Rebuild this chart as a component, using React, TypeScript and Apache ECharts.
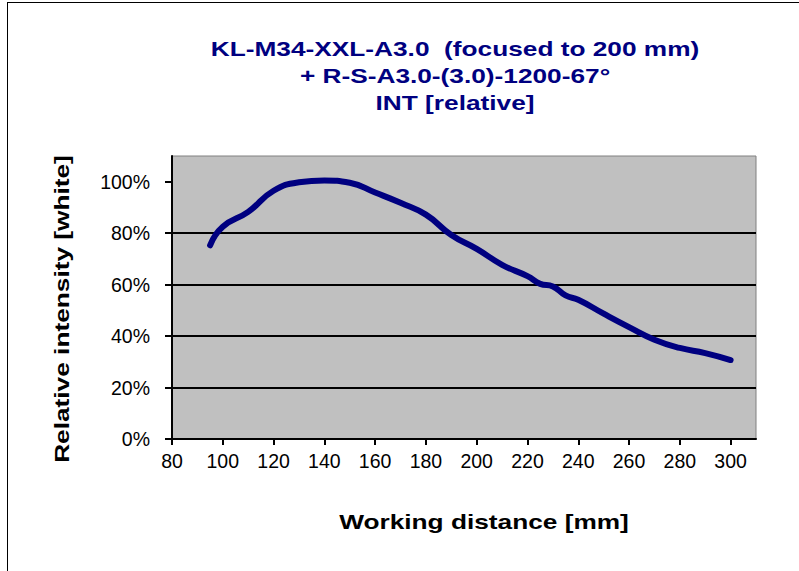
import React, { useEffect, useRef } from "react";
import * as echarts from "echarts";

const titleLines = [
  "KL-M34-XXL-A3.0  (focused to 200 mm)",
  "+ R-S-A3.0-(3.0)-1200-67°",
  "INT [relative]",
];
const xAxisTitle = "Working distance [mm]";
const yAxisTitle = "Relative intensity [white]";

const distance = [95, 100, 110, 120, 130, 140, 150, 160, 170, 180, 190, 200, 210, 220, 225, 230, 235, 240, 250, 260, 270, 280, 290, 300];
const intensity = [0.753, 0.825, 0.883, 0.965, 0.998, 1.005, 0.996, 0.958, 0.918, 0.872, 0.793, 0.739, 0.677, 0.633, 0.603, 0.593, 0.558, 0.541, 0.487, 0.435, 0.386, 0.354, 0.334, 0.307];

const xTicks = [80, 100, 120, 140, 160, 180, 200, 220, 240, 260, 280, 300];
const yTicks = [0, 0.2, 0.4, 0.6, 0.8, 1.0];

export default function App() {
  const ref = useRef<HTMLDivElement>(null);
  useEffect(() => {
    if (!ref.current) return;
    const chart = echarts.init(ref.current, null, { renderer: "svg" });
    const font = "Liberation Sans, Arial, sans-serif";
    const data = distance.map((d, i) => [d, intensity[i]]);
    chart.setOption({
      animation: false,
      backgroundColor: "#ffffff",
      grid: {
        left: 172,
        top: 156,
        right: 43,
        bottom: 132,
        show: true,
        backgroundColor: "#C0C0C0",
        borderColor: "#808080",
        borderWidth: 1,
      },
      xAxis: {
        type: "value",
        min: 80,
        max: 310,
        interval: 20,
        axisLine: { show: true, onZero: false, lineStyle: { color: "#000", width: 2 } },
        axisTick: { show: true, length: 6, lineStyle: { color: "#000", width: 2 }, customValues: xTicks },
        axisLabel: {
          color: "#000",
          fontSize: 19.5,
          fontFamily: font,
          margin: 12,
          customValues: xTicks,
        },
        splitLine: { show: false },
      },
      yAxis: {
        type: "value",
        min: 0,
        max: 1.1,
        interval: 0.2,
        axisLine: { show: true, lineStyle: { color: "#000", width: 2 } },
        axisTick: { show: true, length: 7, lineStyle: { color: "#000", width: 2 }, customValues: yTicks },
        axisLabel: {
          color: "#000",
          fontSize: 19.5,
          fontFamily: font,
          margin: 22,
          customValues: yTicks,
          formatter: (v: number) => Math.round(v * 100) + "%",
        },
        splitLine: {
          show: true,
          showMinLine: false,
          showMaxLine: false,
          lineStyle: { color: "#000", width: 2 },
        },
      },
      series: [
        {
          type: "line",
          data,
          smooth: 0.5,
          showSymbol: false,
          symbol: "none",
          lineStyle: { color: "#000080", width: 6, cap: "round", join: "round" },
        },
      ],
      graphic: [
        {
          type: "line",
          shape: { x1: 7.5, y1: 2.5, x2: 7.5, y2: 600 },
          style: { stroke: "#000", lineWidth: 1 },
        },
        {
          type: "line",
          shape: { x1: 7, y1: 2.5, x2: 820, y2: 2.5 },
          style: { stroke: "#000", lineWidth: 1 },
        },
        ...titleLines.map((t, i) => ({
          type: "text",
          x: 455,
          y: 48 + i * 27,
          scaleX: 1.25,
          style: {
            text: t,
            fill: "#000080",
            font: `bold 21px ${font}`,
            align: "center",
            verticalAlign: "middle",
          },
        })),
        {
          type: "text",
          x: 484,
          y: 521,
          scaleX: 1.25,
          style: {
            text: xAxisTitle,
            fill: "#000",
            font: `bold 21px ${font}`,
            align: "center",
            verticalAlign: "middle",
          },
        },
        {
          type: "text",
          x: 61,
          y: 309,
          rotation: Math.PI / 2,
          scaleX: 1.25,
          style: {
            text: yAxisTitle,
            fill: "#000",
            font: `bold 21px ${font}`,
            align: "center",
            verticalAlign: "middle",
          },
        },
      ],
    });
    return () => chart.dispose();
  }, []);
  return (
    <div
      ref={ref}
      style={{ position: "absolute", left: 0, top: 0, width: 799, height: 571 }}
    />
  );
}
